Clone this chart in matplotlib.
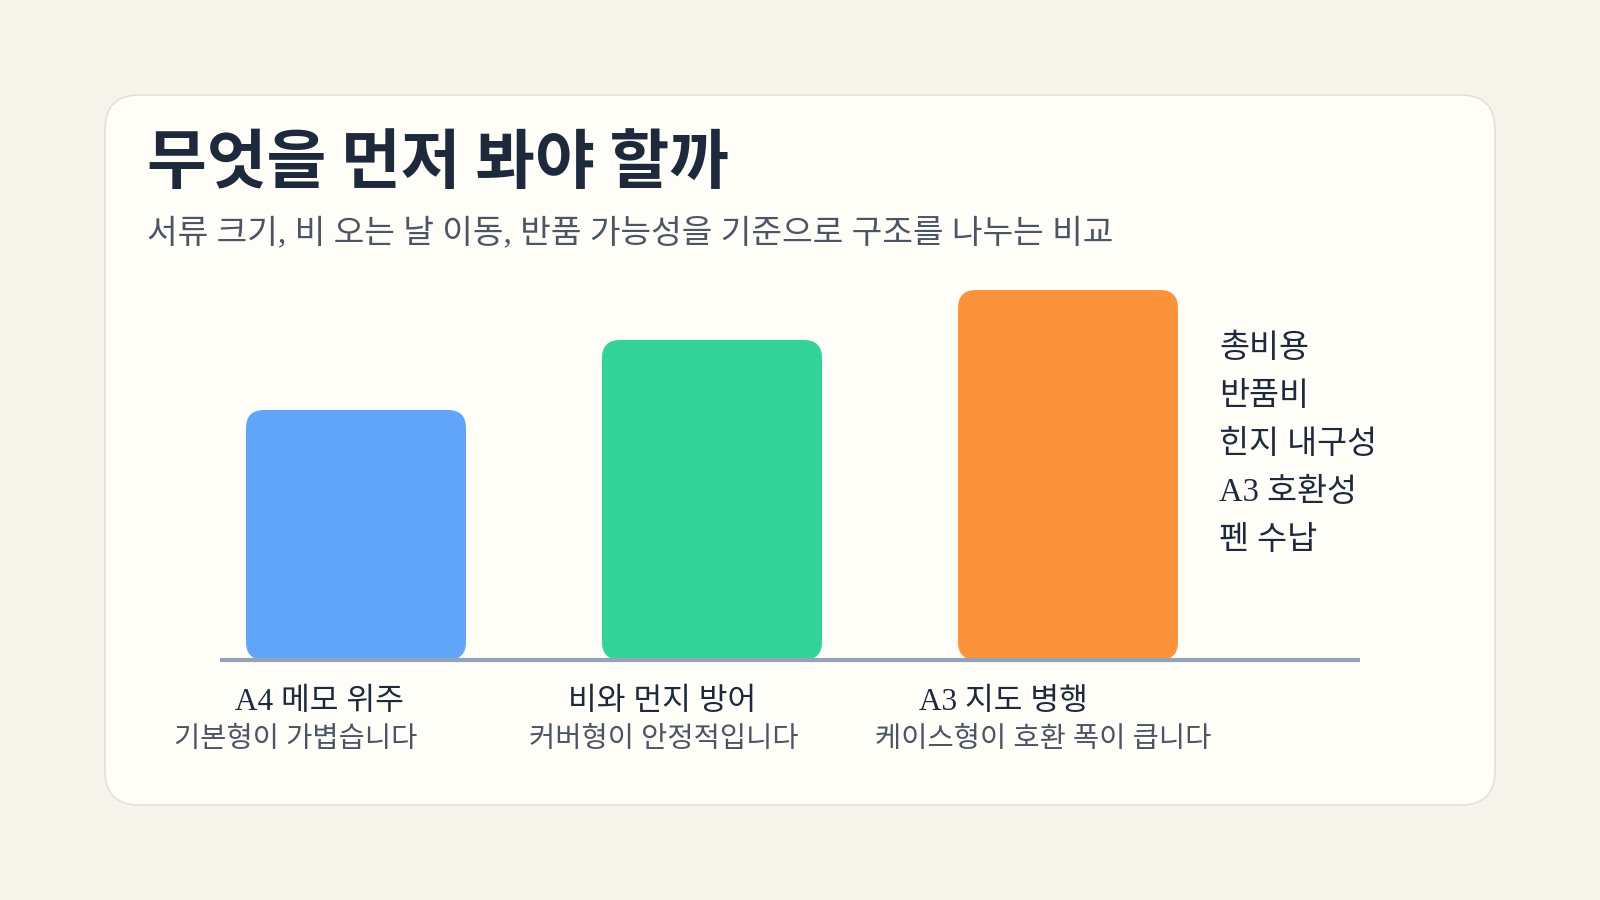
import matplotlib
matplotlib.use('Agg')

import matplotlib.pyplot as plt
from matplotlib.patches import FancyBboxPatch

# Data
categories = ['A4 메모 위주', '비와 먼지 방어', 'A3 지도 병행']
notes = ['기본형이 가볍습니다', '커버형이 안정적입니다', '케이스형이 호환 폭이 큽니다']
scores = [5.0, 6.4, 7.4]
criteria = ['총비용', '반품비', '힌지 내구성', 'A3 호환성', '펜 수납']
colors = ['#60a5fa', '#34d399', '#fb923c']

title = '무엇을 먼저 봐야 할까'
subtitle = '서류 크기, 비 오는 날 이동, 반품 가능성을 기준으로 구조를 나누는 비교'

BODY = ['Liberation Serif', 'Noto Sans CJK KR']
W, H = 1600, 900

fig = plt.figure(figsize=(16, 9), dpi=100)
fig.patch.set_facecolor('#f7f5eb')

# background axes in pixel units for the card and the texts
bg = fig.add_axes([0, 0, 1, 1])
bg.set_xlim(0, W)
bg.set_ylim(H, 0)
bg.axis('off')

card = FancyBboxPatch((105, 95), 1390, 710, boxstyle='round,pad=0,rounding_size=34',
                      facecolor='#fefdf8', edgecolor='#e4e1d6', linewidth=1.2)
bg.add_patch(card)

bg.text(147, 164, title, family='Noto Sans CJK KR', fontweight='bold', fontsize=46.8,
        color='#1e293b', va='center', ha='left')
bg.text(147, 233, subtitle, family=BODY, fontsize=24, color='#4b5563',
        va='center', ha='left')

# bar axes: baseline at y=660, 400 px tall
ax_left, ax_right, ax_base, ax_top = 220, 1360, 660, 260
ax = fig.add_axes([ax_left / W, (H - ax_base) / H, (ax_right - ax_left) / W, (ax_base - ax_top) / H])
ax.set_facecolor('none')
ax.axis('off')

step = 356.0          # px between bar centres
first = 136.0         # px from axes left to first bar centre
xmin = -first / step
xmax = xmin + (ax_right - ax_left) / step
ymax = 8.0
ax.set_xlim(xmin, xmax)
ax.set_ylim(0, ymax)

bar_w = 220 / step
x_per_px = 1 / step
y_per_px = ymax / (ax_base - ax_top)
radius_px = 18

for i, (v, c) in enumerate(zip(scores, colors)):
    p = FancyBboxPatch((i - bar_w / 2, 0), bar_w, v,
                       boxstyle=f'round,pad=0,rounding_size={radius_px * x_per_px}',
                       mutation_aspect=y_per_px / x_per_px,
                       facecolor=c, edgecolor='none', zorder=2)
    ax.add_patch(p)

ax.axhline(0, color='#94a3b8', linewidth=3, zorder=3, clip_on=False, solid_capstyle='butt')

# category labels (slightly off the bar centres, as in the reference)
label_shift = [-37, -50, -65]
note_shift = [-60, -48, -25]
for i, (cat, note) in enumerate(zip(categories, notes)):
    cx = ax_left + first + i * step
    bg.text(cx + label_shift[i], 703, cat, family=BODY, fontsize=22.5, color='#1e293b',
            ha='center', va='center')
    bg.text(cx + note_shift[i], 740, note, family=BODY, fontsize=20.5, color='#4b5563',
            ha='center', va='center')

# criteria list to the right
for j, name in enumerate(criteria):
    bg.text(1219, 349 + j * 48, name, family=BODY, fontsize=23.5, color='#1e293b',
            ha='left', va='center')

plt.savefig('out.png', dpi=100, facecolor=fig.get_facecolor())
